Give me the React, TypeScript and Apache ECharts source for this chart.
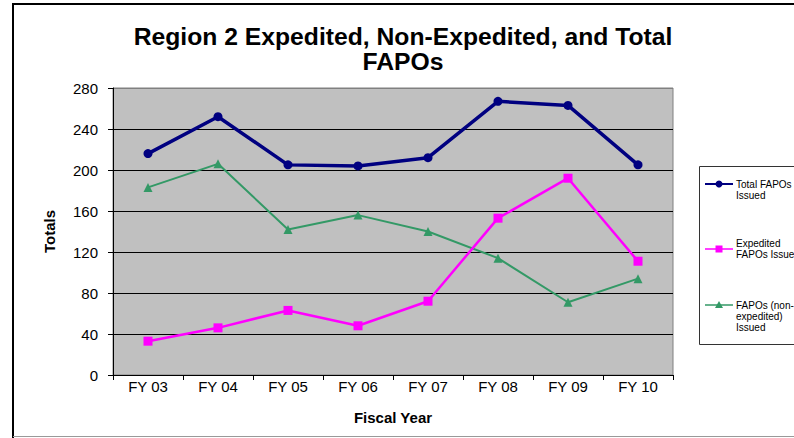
import React, { useEffect, useRef } from "react";
import * as echarts from "echarts";

const categories = ["FY 03", "FY 04", "FY 05", "FY 06", "FY 07", "FY 08", "FY 09", "FY 10"];
const totalIssued = [216, 252, 205, 204, 212, 267, 263, 205];
const expeditedIssued = [33, 46, 63, 48, 72, 153, 192, 111];
const nonExpeditedIssued = [183, 206, 142, 156, 140, 114, 71, 94];
const seriesNames = ["Total FAPOs Issued", "Expedited FAPOs Issued", "FAPOs (non-expedited) Issued"];
const legendLines = [["Total FAPOs", "Issued"], ["Expedited", "FAPOs Issued"], ["FAPOs (non-", "expedited)", "Issued"]];
const titleText = "Region 2 Expedited, Non-Expedited, and Total\nFAPOs";

const FONT = "'Liberation Sans', Arial, sans-serif";
const NAVY = "#000080";
const MAGENTA = "#FF00FF";
const GREEN = "#339966";

export default function App() {
  const ref = useRef<HTMLDivElement>(null);
  useEffect(() => {
    document.body.style.margin = "0";
    const chart = echarts.init(ref.current!, null, { renderer: "svg" });

    const legendItems: any[] = [];
    const iconY = [184, 249, 305];
    const textY = [[184, 195], [243, 254], [305, 316, 327]];
    const colors = [NAVY, MAGENTA, GREEN];
    for (let i = 0; i < 3; i++) {
      const y = iconY[i];
      legendItems.push({
        type: "line",
        shape: { x1: 705, y1: y, x2: 733, y2: y },
        style: { stroke: colors[i], lineWidth: i === 0 ? 2 : 1.5 },
      });
      if (i === 0) {
        legendItems.push({ type: "circle", shape: { cx: 719, cy: y, r: 3.5 }, style: { fill: NAVY } });
      } else if (i === 1) {
        legendItems.push({ type: "rect", shape: { x: 715.5, y: y - 3.5, width: 7, height: 7 }, style: { fill: MAGENTA } });
      } else {
        legendItems.push({
          type: "polygon",
          shape: { points: [[719, y - 4], [723, y + 3], [715, y + 3]] },
          style: { fill: GREEN },
        });
      }
      legendLines[i].forEach((t, j) => {
        legendItems.push({
          type: "text",
          x: 736,
          y: textY[i][j],
          style: { text: t, fill: "#000", font: `10px ${FONT}`, textVerticalAlign: "middle", textAlign: "left" },
        });
      });
    }

    chart.setOption({
      animation: false,
      backgroundColor: "#fff",
      title: {
        text: titleText,
        left: 398,
        top: 19,
        textAlign: "center",
        textStyle: { fontFamily: FONT, fontSize: 24.7, fontWeight: "bold", color: "#000", lineHeight: 25 },
      },
      grid: {
        left: 113,
        right: 121,
        top: 88,
        bottom: 63,
        show: true,
        backgroundColor: "#C0C0C0",
        borderColor: "#808080",
        borderWidth: 1,
      },
      xAxis: {
        type: "category",
        data: categories,
        boundaryGap: true,
        name: "Fiscal Year",
        nameLocation: "middle",
        nameGap: 35,
        nameTextStyle: { fontFamily: FONT, fontSize: 15, fontWeight: "bold", color: "#000" },
        axisLine: { lineStyle: { color: "#000", width: 1 } },
        axisTick: { show: true, length: 5, lineStyle: { color: "#000" } },
        axisLabel: { fontFamily: FONT, fontSize: 15, color: "#000", margin: 4 },
        splitLine: { show: false },
      },
      yAxis: {
        type: "value",
        min: 0,
        max: 280,
        interval: 40,
        name: "Totals",
        nameLocation: "middle",
        nameGap: 56,
        nameTextStyle: { fontFamily: FONT, fontSize: 15, fontWeight: "bold", color: "#000" },
        axisLine: { show: true, lineStyle: { color: "#000", width: 1 } },
        axisTick: { show: true, length: 5, lineStyle: { color: "#000" } },
        axisLabel: { fontFamily: FONT, fontSize: 15, color: "#000", margin: 15 },
        splitLine: {
          show: true,
          lineStyle: { color: ["#000", "#000", "#000", "#000", "#000", "#000", "#000", "#808080"], width: 1 },
        },
      },
      series: [
        {
          name: seriesNames[0],
          type: "line",
          data: totalIssued,
          symbol: "circle",
          symbolSize: 9,
          lineStyle: { color: NAVY, width: 3.5 },
          itemStyle: { color: NAVY },
          z: 4,
        },
        {
          name: seriesNames[1],
          type: "line",
          data: expeditedIssued,
          symbol: "rect",
          symbolSize: 9,
          lineStyle: { color: MAGENTA, width: 2.5 },
          itemStyle: { color: MAGENTA },
          z: 3,
        },
        {
          name: seriesNames[2],
          type: "line",
          data: nonExpeditedIssued,
          symbol: "triangle",
          symbolSize: 9,
          lineStyle: { color: GREEN, width: 2 },
          itemStyle: { color: GREEN },
          z: 2,
        },
      ],
      graphic: [
        { type: "line", shape: { x1: 13, y1: 3, x2: 13, y2: 438 }, style: { stroke: "#000", lineWidth: 2 } },
        { type: "line", shape: { x1: 12, y1: 4, x2: 794, y2: 4 }, style: { stroke: "#000", lineWidth: 2 } },
        { type: "line", shape: { x1: 13, y1: 436.5, x2: 794, y2: 436.5 }, style: { stroke: "#999", lineWidth: 1 } },
        {
          type: "rect",
          shape: { x: 699.5, y: 166.5, width: 120, height: 178 },
          style: { fill: "#fff", stroke: "#333", lineWidth: 1 },
        },
        ...legendItems,
      ],
    });
    return () => chart.dispose();
  }, []);
  return <div ref={ref} style={{ width: 794, height: 438 }} />;
}
